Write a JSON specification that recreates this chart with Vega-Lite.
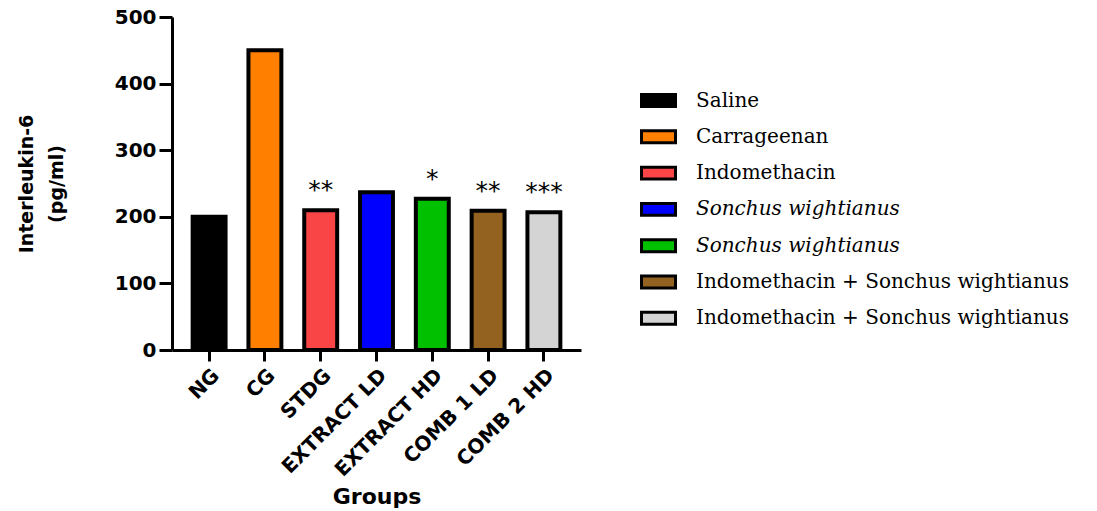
{
  "$schema": "https://vega.github.io/schema/vega-lite/v6.json",
  "width": 409,
  "height": 333,
  "autosize": {"type": "none"},
  "padding": {"left": 172, "top": 17, "right": 516, "bottom": 161},
  "background": "white",
  "config": {
    "view": {"stroke": null},
    "axis": {
      "labelFont": "DejaVu Sans",
      "labelFontWeight": "bold",
      "titleFont": "DejaVu Sans",
      "titleFontWeight": "bold",
      "domainColor": "black",
      "domainWidth": 3,
      "tickColor": "black",
      "tickWidth": 3,
      "labelColor": "black",
      "titleColor": "black",
      "grid": false
    }
  },
  "data": {
    "values": [
      {"group": "NG", "value": 200, "sig": ""},
      {"group": "CG", "value": 450, "sig": ""},
      {"group": "STDG", "value": 210, "sig": "**"},
      {"group": "EXTRACT LD", "value": 237, "sig": ""},
      {"group": "EXTRACT HD", "value": 227, "sig": "*"},
      {"group": "COMB 1 LD", "value": 209, "sig": "**"},
      {"group": "COMB 2 HD", "value": 207, "sig": "***"}
    ]
  },
  "encoding": {
    "x": {
      "field": "group",
      "type": "nominal",
      "sort": null,
      "scale": {"paddingInner": 0.41, "paddingOuter": 0.37},
      "axis": {
        "title": "Groups",
        "labelAngle": -45,
        "labelFontSize": 20,
        "titleFontSize": 22,
        "tickSize": 11,
        "labelPadding": 4,
        "titlePadding": 7
      }
    },
    "y": {
      "field": "value",
      "type": "quantitative",
      "scale": {"domain": [0, 500], "nice": false},
      "axis": {
        "title": ["Interleukin-6", "(pg/ml)"],
        "values": [0, 100, 200, 300, 400, 500],
        "labelFontSize": 20,
        "titleFontSize": 19,
        "titleLineHeight": 30,
        "tickSize": 13,
        "labelPadding": 3,
        "titlePadding": 48
      }
    }
  },
  "layer": [
    {
      "mark": {"type": "bar", "stroke": "black", "strokeWidth": 4},
      "encoding": {
        "fill": {
          "field": "group",
          "type": "nominal",
          "sort": null,
          "scale": {
            "domain": ["NG", "CG", "STDG", "EXTRACT LD", "EXTRACT HD", "COMB 1 LD", "COMB 2 HD"],
            "range": ["#000000", "#FF8000", "#F94545", "#0000FF", "#00C000", "#936220", "#D4D4D4"]
          },
          "legend": {
            "orient": "none",
            "legendX": 468,
            "legendY": 65,
            "title": null,
            "padding": 0,
            "symbolType": "M-1,-0.35H1V0.35H-1Z",
            "symbolSize": 1156,
            "symbolStrokeColor": "black",
            "symbolStrokeWidth": 3,
            "symbolFillOpacity": 1,
            "labelFont": "DejaVu Serif",
            "labelFontSize": 20,
            "labelColor": "black",
            "labelOffset": 19,
            "labelLimit": 600,
            "rowPadding": 5.3,
            "labelExpr": "datum.value === 'NG' ? 'Saline' : datum.value === 'CG' ? 'Carrageenan' : datum.value === 'STDG' ? 'Indomethacin' : (datum.value === 'EXTRACT LD' || datum.value === 'EXTRACT HD') ? 'Sonchus wightianus' : 'Indomethacin + Sonchus wightianus'",
            "encode": {
              "labels": {
                "update": {
                  "fontStyle": {"signal": "(datum.value === 'EXTRACT LD' || datum.value === 'EXTRACT HD') ? 'italic' : 'normal'"}
                }
              }
            }
          }
        }
      }
    },
    {
      "mark": {"type": "text", "font": "DejaVu Sans", "fontSize": 25, "dy": -12, "baseline": "alphabetic", "color": "black"},
      "encoding": {
        "text": {"field": "sig"}
      }
    }
  ]
}
